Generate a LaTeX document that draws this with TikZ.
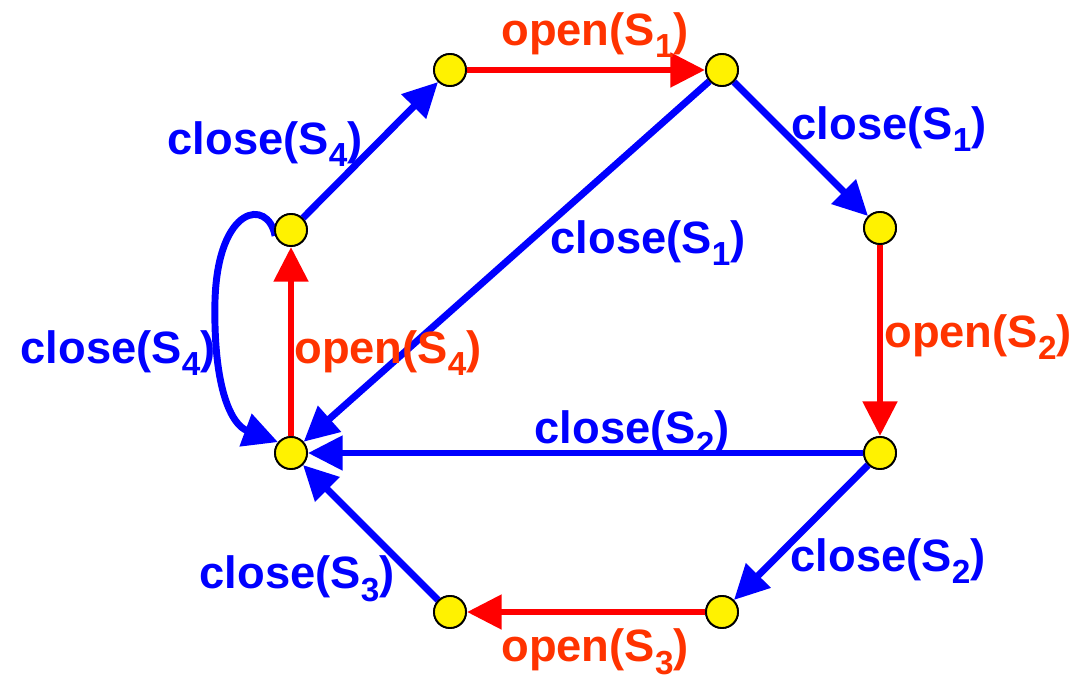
\documentclass[tikz,border=0pt]{standalone}
\usepackage{fontspec}
\setmainfont{Liberation Sans}
\usetikzlibrary{arrows.meta}
\definecolor{edgeblue}{RGB}{0,0,255}
\definecolor{edgered}{RGB}{255,0,0}
\definecolor{lblred}{RGB}{255,51,0}
\newcommand\subs[1]{\raisebox{-.28em}{\fontsize{25}{25}\selectfont #1}}

\begin{document}
\begin{tikzpicture}[x=.75pt,y=-.75pt,line width=5.2pt,
  state/.style={circle,draw=black,line width=1.4pt,fill=yellow,minimum size=24pt,inner sep=0pt},
  openedge/.style={draw=edgered,-{Triangle[length=26pt,width=25pt]}},
  closeedge/.style={draw=edgeblue,-{Triangle[length=26pt,width=25pt]}},
  openlbl/.style={text=lblred,font=\fontsize{34}{34}\selectfont\bfseries,inner sep=0pt},
  closelbl/.style={text=edgeblue,font=\fontsize{34}{34}\selectfont\bfseries,inner sep=0pt}]
\useasboundingbox (0,0) rectangle (1091,681);
% states
\node[state] (A) at (450,70) {};
\node[state] (B) at (722,70) {};
\node[state] (C) at (880,228) {};
\node[state] (D) at (880,453) {};
\node[state] (E) at (722,612) {};
\node[state] (F) at (450,612) {};
\node[state] (G) at (291,453) {};
\node[state] (H) at (291,230) {};
% transitions
\draw[closeedge] (B) -- (G);
\draw[closeedge] (D) -- (G);
\draw[openedge] (A) -- (B);
\draw[closeedge] (B) -- (C);
\draw[openedge] (C) -- (D);
\draw[closeedge] (D) -- (E);
\draw[openedge] (E) -- (F);
\draw[closeedge] (F) -- (G);
\draw[openedge] (G) -- (H);
\draw[closeedge] (H) -- (A);
\draw[closeedge] (H.200) .. controls (268,198) and (218,205) .. (215,300)
  .. controls (213,390) and (232,425) .. (G.140);
\foreach \n in {A,B,C,D,E,F,G,H} \node[state] at (\n) {};
% labels
\node[openlbl] (l1) at (595,35) {open(S\subs{1})};
\node[closelbl] (l2) at (889,129) {close(S\subs{1})};
\node[closelbl] (l3) at (265,144) {close(S\subs{4})};
\node[closelbl] (l4) at (648,243) {close(S\subs{1})};
\node[openlbl] (l5) at (978,337) {open(S\subs{2})};
\node[closelbl] (l6) at (118,353) {close(S\subs{4})};
\node[openlbl] (l7) at (388,353) {open(S\subs{4})};
\node[closelbl] (l8) at (632,433) {close(S\subs{2})};
\node[closelbl] (l9) at (888,561) {close(S\subs{2})};
\node[closelbl] (l10) at (297,579) {close(S\subs{3})};
\node[openlbl] (l11) at (595,652) {open(S\subs{3})};
\end{tikzpicture}
\end{document}
